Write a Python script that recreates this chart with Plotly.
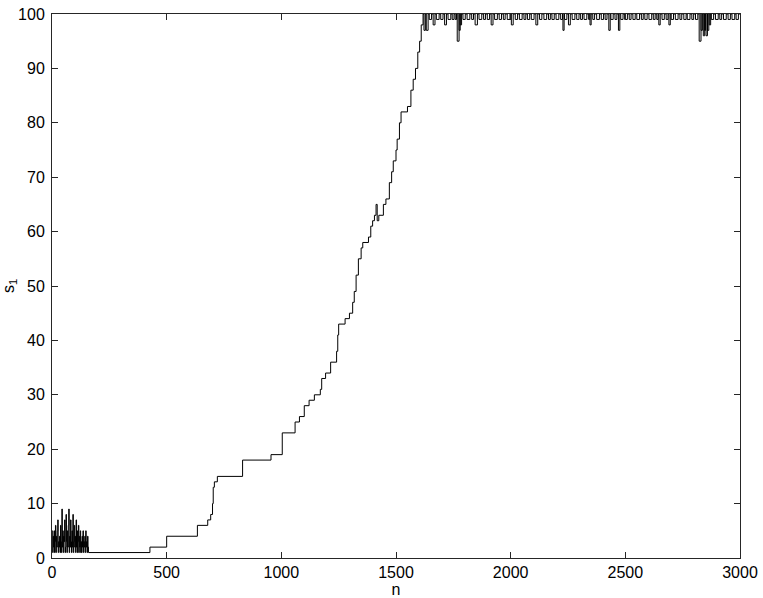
import plotly.graph_objects as go

# Early noisy phase (n = 1, 3, 5, ... 159)
noise_n = list(range(1, 161, 2))
noise_s = [5, 1, 4, 2, 5, 1, 3, 6, 1, 4, 2, 5, 7, 1, 3, 2, 4, 1, 6, 3,
           1, 9, 2, 5, 1, 4, 3, 7, 1, 2, 8, 3, 1, 5, 2, 6, 9, 1, 4, 2,
           7, 3, 1, 5, 2, 8, 1, 3, 6, 2, 4, 1, 7, 2, 5, 1, 3, 6, 1, 4,
           2, 5, 1, 3, 1, 4, 2, 5, 1, 3, 2, 4, 1, 5, 2, 3, 1, 4, 2, 1]

# Staircase growth phase (change points)
step_n = [160, 427, 500, 634, 679, 692, 700, 703, 708, 721, 831, 955, 1004,
          1060, 1079, 1100, 1121, 1144, 1170, 1176, 1193, 1215, 1241, 1246,
          1250, 1278, 1297, 1311, 1318, 1326, 1336, 1348, 1355, 1380, 1390,
          1398, 1406, 1413, 1418, 1425, 1445, 1456, 1471, 1481, 1488, 1500,
          1505, 1515, 1522, 1550, 1565, 1575, 1585, 1595, 1603, 1610, 1618]
step_s = [1, 2, 4, 6, 7, 8, 10, 13, 14, 15, 18, 19, 23,
          25, 26, 28, 29, 30, 31, 33, 34, 36, 38, 41,
          43, 44, 45, 47, 49, 52, 55, 57, 58, 59, 61,
          62, 63, 65, 62, 63, 65, 66, 69, 71, 73, 75,
          77, 80, 82, 83, 86, 88, 90, 93, 95, 98, 100]

# Saturated phase: short dips below 100 (start n, level, duration)
dip_n = [1622, 1632, 1645, 1662, 1676, 1695, 1712, 1727, 1745, 1758, 1767,
         1775, 1780, 1792, 1810, 1830, 1845, 1862, 1882, 1898, 1915, 1930,
         1950, 1968, 1985, 2003, 2020, 2038, 2058, 2073, 2090, 2110, 2126,
         2145, 2165, 2180, 2198, 2218, 2228, 2235, 2252, 2268, 2288, 2305,
         2320, 2340, 2346, 2358, 2375, 2395, 2412, 2428, 2437, 2455, 2470,
         2480, 2497, 2517, 2533, 2550, 2570, 2585, 2603, 2622, 2637, 2646,
         2660, 2678, 2690, 2700, 2718, 2738, 2755, 2770, 2790, 2806, 2822,
         2830, 2840, 2846, 2852, 2858, 2866, 2875, 2893, 2912, 2928, 2948,
         2965, 2983]
dip_s = [97, 97, 99, 98, 99, 99, 98, 99, 99, 99, 95,
         97, 98, 99, 99, 99, 98, 99, 99, 99, 98, 99,
         99, 99, 99, 98, 99, 99, 99, 99, 99, 98, 99,
         99, 99, 99, 99, 99, 97, 99, 98, 99, 99, 99,
         99, 99, 98, 99, 99, 99, 99, 97, 99, 99, 97,
         99, 99, 99, 99, 99, 99, 99, 99, 99, 99, 98,
         99, 99, 98, 99, 99, 99, 99, 99, 99, 99, 95,
         97, 96, 97, 96, 97, 98, 99, 99, 99, 99, 99,
         99, 99]
dip_w = [6, 8, 10, 8, 12, 10, 8, 12, 8, 6, 8,
         5, 6, 10, 12, 8, 10, 12, 8, 10, 8, 12,
         10, 8, 12, 8, 10, 12, 8, 10, 12, 8, 10,
         12, 8, 10, 12, 8, 5, 10, 8, 12, 10, 8,
         12, 5, 5, 8, 12, 10, 8, 6, 10, 8, 6,
         10, 12, 8, 10, 12, 8, 10, 12, 8, 6, 6,
         10, 8, 6, 10, 12, 8, 10, 12, 8, 10, 8,
         6, 6, 4, 6, 6, 6, 10, 12, 8, 12, 10,
         12, 10]

x = list(noise_n) + list(step_n)
y = list(noise_s) + list(step_s)
for n0, s0, w0 in zip(dip_n, dip_s, dip_w):
    x += [n0, n0 + w0]
    y += [s0, 100]
x.append(3000)
y.append(100)

fig = go.Figure(go.Scatter(x=x, y=y, mode="lines", line_shape="hv",
                           line=dict(color="black", width=1)))

FONT = "Liberation Sans, Arial, Helvetica"
axis_common = dict(showline=True, linecolor="#262626", linewidth=1,
                   mirror="ticks", ticks="inside", ticklen=6,
                   tickcolor="#262626", showgrid=False, zeroline=False,
                   automargin=False,
                   tickfont=dict(family=FONT, size=16, color="black"))

fig.update_layout(
    width=763, height=598,
    margin=dict(l=52, r=23, t=14, b=40),
    plot_bgcolor="white", paper_bgcolor="white",
    showlegend=False,
    xaxis=dict(range=[0, 3000], tickvals=[0, 500, 1000, 1500, 2000, 2500, 3000],
               title=dict(text="n", standoff=0,
                          font=dict(family=FONT, size=16, color="black")),
               **axis_common),
    yaxis=dict(range=[0, 100], tickvals=list(range(0, 101, 10)),
               ticklabelstandoff=3,
               title=dict(text="s<sub>1</sub>", standoff=2,
                          font=dict(family=FONT, size=16, color="black")),
               **axis_common),
)

fig.write_html("out.html", config={"displayModeBar": False},
               post_script="document.body.style.margin='0';document.body.style.overflow='hidden';")
